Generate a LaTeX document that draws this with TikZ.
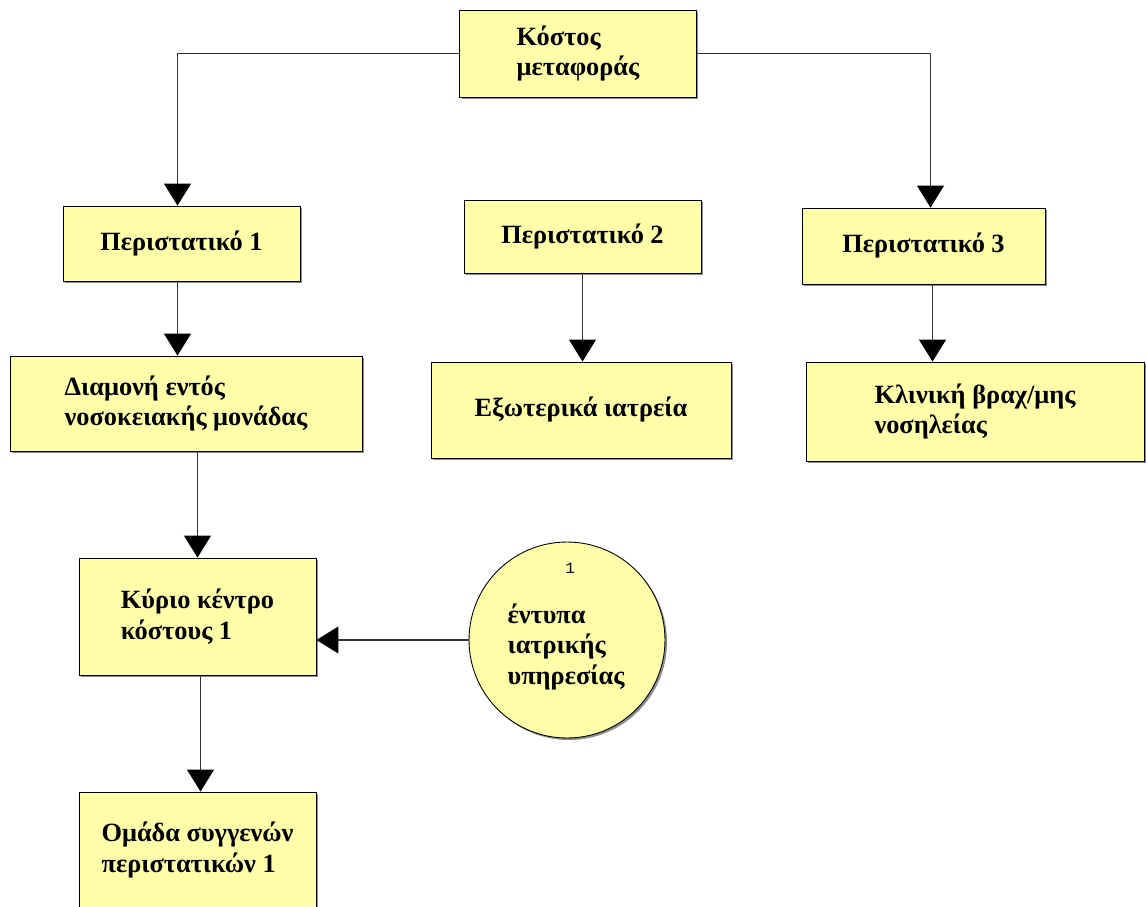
\documentclass[tikz,border=0pt]{standalone}
\usepackage{fontspec}
\setmainfont{Liberation Serif}
\newfontfamily\monofont{Liberation Mono}
\usetikzlibrary{calc,arrows.meta,shadows}
\definecolor{boxyellow}{RGB}{255,255,170}
\tikzset{
	box/.style={draw=black, line width=0.5pt, fill=boxyellow, align=left, inner sep=2pt,
		font=\fontsize{15}{17.5}\selectfont\bfseries,
		drop shadow={shadow xshift=0.04cm, shadow yshift=-0.04cm, fill=black!45, opacity=1}},
	flow/.style={draw=black!80, line width=0.6pt, -{Triangle[length=0.44cm,width=0.54cm,color=black]}}
}

\begin{document}
\begin{tikzpicture}[x=0.02cm, y=-0.02cm]
		%%%%% START %%%%%
		\clip (0, 0) rectangle (1146, 906);
		\useasboundingbox (0, 0) rectangle (1146, 906);
		
		\node[box, minimum width=4.74cm, minimum height=1.74cm] (kostos) at (578, 53.5) {Κόστος\\μεταφοράς};
		
		\node[box, minimum width=4.74cm, minimum height=1.5cm] (per1) at (181.5, 243.5) {Περιστατικό 1};
		\node[box, minimum width=4.74cm, minimum height=1.46cm] (per2) at (582.5, 236.5) {Περιστατικό 2};
		\node[box, minimum width=4.86cm, minimum height=1.52cm] (per3) at (923.5, 246) {Περιστατικό 3};
		
		\node[box, minimum width=7.04cm, minimum height=1.9cm] (diam) at (186, 403.5) {Διαμονή εντός\\νοσοκειακής μονάδας};
		\node[box, minimum width=6cm, minimum height=1.92cm] (exot) at (581, 410) {Εξωτερικά ιατρεία};
		\node[box, minimum width=6.76cm, minimum height=1.98cm] (klin) at (975, 411.5) {Κλινική βραχ/μης\\νοσηλείας};
		
		\node[box, minimum width=4.74cm, minimum height=2.34cm] (kyrio) at (197.5, 616.5) {Κύριο κέντρο\\κόστους 1};
		\node[box, minimum width=4.74cm, minimum height=2.32cm] (omada) at (197.5, 850) {Ομάδα συγγενών\\περιστατικών 1};
		
		\node[box, circle, minimum size=3.92cm, inner sep=0pt, drop shadow={shadow xshift=0.03cm, shadow yshift=-0.03cm, fill=black!45, opacity=1}] (circ) at (567, 640) {};
		\node[font=\fontsize{15}{17.5}\selectfont\bfseries, align=left] (circtxt) at (566, 647) {έντυπα\\ιατρικής\\υπηρεσίας};
		\node[font=\fontsize{9}{10}\monofont] (circnum) at (570, 568) {1};
		
		% connectors
		\draw[flow] (kostos.west) -| ($(per1.north)+(-4, 0)$);
		\draw[flow] (kostos.east) -| ($(per3.north)+(7, 0)$);
		\draw[flow] ($(per1.south)+(-4, 0)$) -- ($(per1.south |- diam.north)+(-4, 0)$);
		\draw[flow] (per2.south) -- (per2.south |- exot.north);
		\draw[flow] ($(per3.south)+(9, 0)$) -- ($(per3.south |- klin.north)+(9, 0)$);
		\draw[flow] (kyrio.north |- diam.south) -- (kyrio.north);
		\draw[flow] (circ.west) -- (circ.west -| kyrio.east);
		\draw[flow] ($(kyrio.south)+(3, 0)$) -- ($(omada.north)+(3, 0)$);
		%%%%% END %%%%%
	\end{tikzpicture}
\end{document}
